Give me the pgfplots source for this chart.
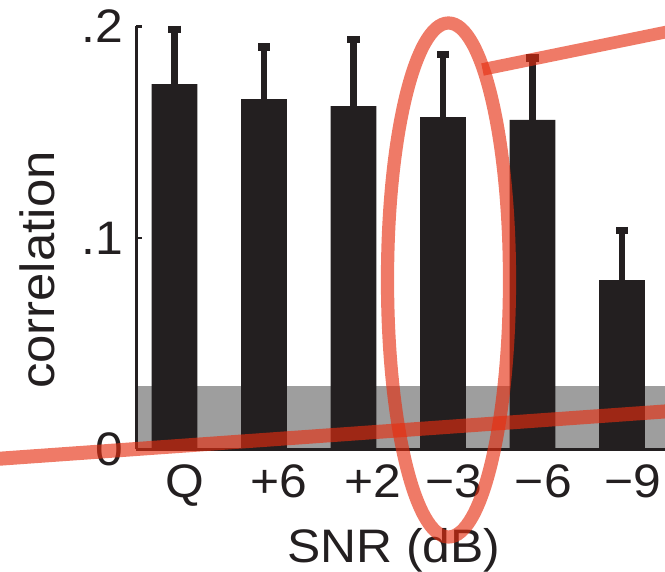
\documentclass[border=0pt]{standalone}
\usepackage{fontspec}
\setmainfont{Liberation Sans}[FakeStretch=1.06]
\usepackage{pgfplots}
\pgfplotsset{compat=1.18}

\definecolor{barblk}{RGB}{35,31,32}
\definecolor{bandgray}{RGB}{158,158,158}
\definecolor{redann}{RGB}{230,45,15}

\begin{document}
\begin{tikzpicture}
	% page = reference frame, 1px = 0.5pt, origin at the axis corner
	\useasboundingbox (-68.25pt,-61.25pt) rectangle (264.25pt,224.75pt);
	\clip (-68.25pt,-61.25pt) rectangle (264.25pt,224.75pt);
	\begin{axis}[
			at={(0,0)}, anchor=south west,
			scale only axis,
			width=271.75pt,
			height=211.5pt,
			xmin=-0.4246, xmax=5.648,
			ymin=0, ymax=0.2,
			clip=false,
			axis x line=bottom,
			axis y line=left,
			axis line style={-, line width=1.1pt, draw=barblk},
			axis on top,
			xtick={0.114,1.168,2.218,3.123,4.121,5.126},
			xticklabels={Q,+6,+2,−3,−6,−9},
			x tick style={draw=none},
			ytick={0,0.1,0.2},
			yticklabels={0,.1,.2},
			y tick style={line width=1.1pt, draw=barblk},
			tick align=inside,
			major tick length=3pt,
			tick label style={font=\fontsize{23.5pt}{28pt}\selectfont, text=barblk},
			xticklabel style={anchor=base, yshift=-24.25pt, inner sep=0pt},
			yticklabel style={anchor=east, xshift=-6.5pt, inner sep=0pt},
			xlabel={SNR (dB)},
			ylabel={correlation},
			xlabel style={at={(rel axis cs:0.4733,-0.2671)}, anchor=base,
					font=\fontsize{23.5pt}{28pt}\selectfont, text=barblk},
			ylabel style={at={(rel axis cs:-0.1509,0.424)}, anchor=base,
					font=\fontsize{24pt}{28pt}\selectfont, text=barblk},
		]
		% chance band
		\addplot [fill=bandgray, draw=none] coordinates {
				(-0.4246,0.03) (5.648,0.03)
			} \closedcycle;
		% the y error mark is turned by 90 degrees: line width gives the cap's width
		\addplot [ybar, bar width=0.51, fill=barblk, draw=none,
			error bars/.cd, y dir=plus, y explicit,
			error bar style={line width=3.3pt, draw=barblk},
			error mark options={line width=6.2pt, mark size=1.9pt, draw=barblk}]
		coordinates {
				(0,0.1728) +- (0,0.0258)
				(1,0.1657) +- (0,0.0246)
				(2,0.1624) +- (0,0.0314)
				(3,0.1572) +- (0,0.0296)
				(4,0.1558) +- (0,0.0294)
				(5,0.0801) +- (0,0.0234)
			};
	\end{axis}
	% red annotations, in reference pixel coordinates
	\begin{scope}[x={(0.5pt,0)}, y={(0,-0.5pt)}, shift={(-68.25pt,224.75pt)}]
		\draw[redann, draw opacity=0.63, line width=7pt] (-10,459.4) -- (680,410.4);
		\draw[redann, draw opacity=0.63, line width=6.3pt] (482.5,69.5) -- (700,25.1);
		\draw[redann, draw opacity=0.63, line width=6.6pt] (448.5,280) ellipse [x radius=61, y radius=257];
	\end{scope}
\end{tikzpicture}
\end{document}
